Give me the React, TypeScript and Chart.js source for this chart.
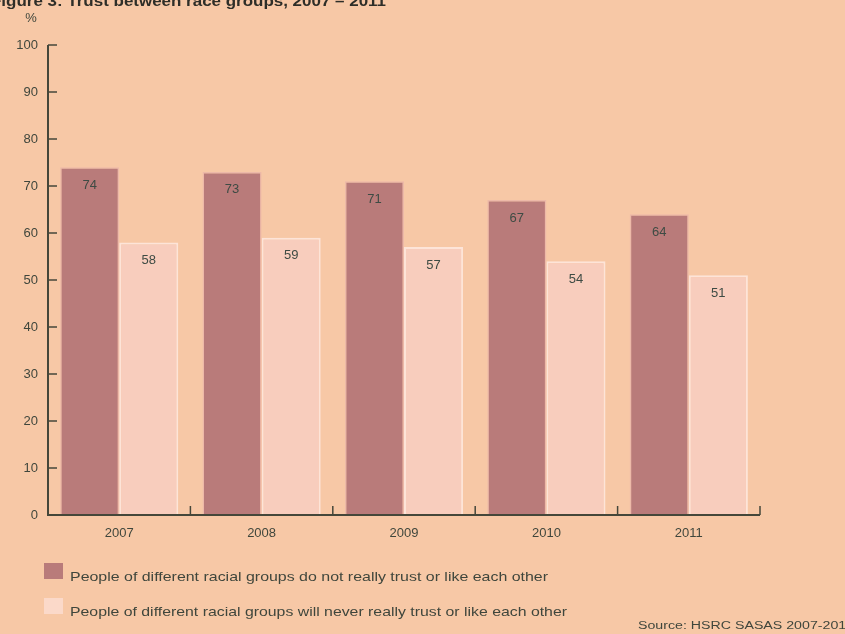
import React, { useEffect, useRef } from "react";
import { Chart, registerables } from "chart.js";

Chart.register(...registerables);

const years = ["2007", "2008", "2009", "2010", "2011"];
const notTrust = [74, 73, 71, 67, 64];
const neverTrust = [58, 59, 57, 54, 51];
const seriesNames = [
  "People of different racial groups do not really trust or like each other",
  "People of different racial groups will never really trust or like each other",
];
const yTicks = [0, 10, 20, 30, 40, 50, 60, 70, 80, 90, 100];
const titleText = "Figure 3: Trust between race groups, 2007 \u2013 2011";
const sourceText = "Source: HSRC SASAS 2007-2011";

const BG = "#F7C8A6";
const DARK = "#B97B7A";
const LIGHT = "#F8CDBD";
const AXIS = "#45473A";
const TEXT = "#3F463C";
const FONT = "'Liberation Sans Narrow', 'Liberation Sans', Arial, sans-serif";

function fitText(ctx: CanvasRenderingContext2D, text: string, x: number, y: number, width: number) {
  const w = ctx.measureText(text).width;
  ctx.save();
  ctx.translate(x, y);
  ctx.scale(width / w, 1);
  ctx.fillText(text, 0, 0);
  ctx.restore();
}

const decorPlugin = {
  id: "decor",
  afterDatasetsDraw(chart: any) {
    const ctx: CanvasRenderingContext2D = chart.ctx;
    const xs = chart.scales.x;
    const ys = chart.scales.y;
    const area = chart.chartArea;
    ctx.save();
    ctx.fillStyle = "#3E4B44";
    ctx.font = `13px ${FONT}`;
    ctx.textAlign = "center";
    ctx.textBaseline = "middle";
    chart.data.datasets.forEach((ds: any, di: number) => {
      const meta = chart.getDatasetMeta(di);
      meta.data.forEach((bar: any, i: number) => {
        ctx.fillText(String(ds.data[i]), bar.x, bar.y + 18);
      });
    });
    ctx.strokeStyle = AXIS;
    ctx.lineWidth = 2;
    ctx.beginPath();
    ctx.moveTo(area.left, ys.getPixelForValue(100));
    ctx.lineTo(area.left, ys.getPixelForValue(0));
    ctx.lineTo(area.right, ys.getPixelForValue(0));
    ctx.stroke();
    ctx.lineWidth = 1.5;
    yTicks.forEach((v) => {
      const y = ys.getPixelForValue(v);
      ctx.beginPath();
      ctx.moveTo(area.left, y);
      ctx.lineTo(area.left + 9, y);
      ctx.stroke();
    });
    const y0 = ys.getPixelForValue(0);
    const half = (xs.getPixelForValue(1) - xs.getPixelForValue(0)) / 2;
    for (let i = 0; i < years.length; i++) {
      const xb = xs.getPixelForValue(i) + half;
      ctx.beginPath();
      ctx.moveTo(xb, y0);
      ctx.lineTo(xb, y0 - 9);
      ctx.stroke();
    }
    ctx.restore();
  },
  afterDraw(chart: any) {
    const ctx: CanvasRenderingContext2D = chart.ctx;
    ctx.save();
    ctx.fillStyle = "#2E2E28";
    ctx.font = `bold 14px 'Liberation Sans', Arial, sans-serif`;
    ctx.textBaseline = "alphabetic";
    ctx.textAlign = "left";
    fitText(ctx, titleText, -9, 6, 395);

    ctx.fillStyle = TEXT;
    ctx.font = `13px ${FONT}`;
    ctx.textAlign = "center";
    ctx.fillText("%", 31, 22);

    ctx.fillStyle = DARK;
    ctx.fillRect(44, 563, 19, 16);
    ctx.fillStyle = "#FBD9C9";
    ctx.fillRect(44, 598, 19, 16);
    ctx.fillStyle = TEXT;
    ctx.font = `13px ${FONT}`;
    ctx.textAlign = "left";
    ctx.textBaseline = "middle";
    fitText(ctx, seriesNames[0], 70, 577, 478);
    fitText(ctx, seriesNames[1], 70, 612, 497);
    ctx.font = `10px ${FONT}`;
    fitText(ctx, sourceText, 638, 626, 215);
    ctx.restore();
  },
};

export default function App() {
  const ref = useRef<HTMLCanvasElement | null>(null);
  useEffect(() => {
    document.body.style.margin = "0";
    const canvas = ref.current!;
    const chart = new Chart(canvas, {
      type: "bar",
      data: {
        labels: years,
        datasets: [
          {
            label: seriesNames[0],
            data: notTrust,
            backgroundColor: DARK,
            borderColor: "#EDB9A8",
            borderWidth: 1.5,
            barPercentage: 1.0,
            categoryPercentage: 0.83,
          },
          {
            label: seriesNames[1],
            data: neverTrust,
            backgroundColor: LIGHT,
            borderColor: "#FDE4D8",
            borderWidth: 2,
            barPercentage: 1.0,
            categoryPercentage: 0.83,
          },
        ],
      },
      options: {
        responsive: false,
        animation: false,
        devicePixelRatio: 1,
        layout: { padding: { left: 8, top: 45, right: 85, bottom: 80 } },
        plugins: {
          legend: { display: false },
          tooltip: { enabled: false },
          title: { display: false },
        },
        scales: {
          x: {
            grid: { display: false, drawTicks: false },
            border: { display: false },
            ticks: {
              color: TEXT,
              font: { family: FONT, size: 13 },
              padding: 11,
              maxRotation: 0,
            },
            afterFit: (s: any) => {
              s.height = 39;
            },
          },
          y: {
            min: 0,
            max: 100,
            grid: { display: false, drawTicks: false },
            border: { display: false },
            ticks: {
              stepSize: 10,
              color: TEXT,
              font: { family: FONT, size: 13 },
              padding: 10,
            },
            afterFit: (s: any) => {
              s.width = 40;
            },
          },
        },
      },
      plugins: [decorPlugin],
    });
    return () => chart.destroy();
  }, []);
  return (
    <div style={{ position: "fixed", left: 0, top: 0, width: 845, height: 634, background: BG, overflow: "hidden" }}>
      <canvas ref={ref} width={845} height={634} style={{ width: 845, height: 634, display: "block" }} />
    </div>
  );
}
